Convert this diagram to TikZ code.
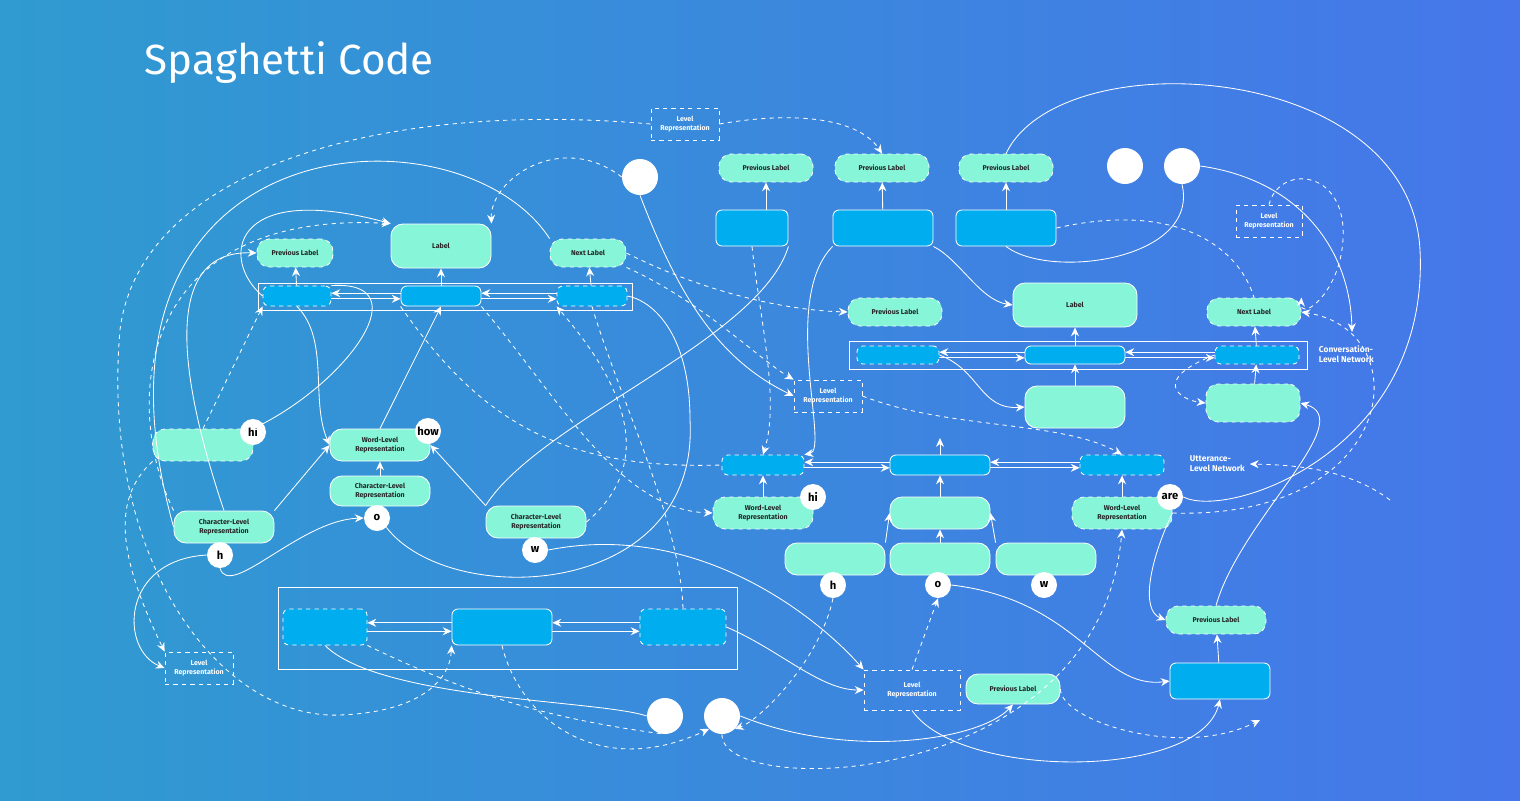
\documentclass[tikz,border=0pt]{standalone}
\usepackage{fontspec}
\setmainfont{Fira Sans}
\usetikzlibrary{arrows.meta}
\definecolor{bgl}{HTML}{2F9BD0}
\definecolor{bgr}{HTML}{4676EA}
\definecolor{mint}{HTML}{86F5D8}
\definecolor{cyanb}{HTML}{00AEEF}
\tikzset{
  base/.style={draw=white, line width=0.6pt, text=black!85, align=center, inner sep=0.5pt,
    font=\fontsize{5}{6}\selectfont\bfseries},
  lab/.style={base, fill=mint, rounded corners=3mm, minimum height=8mm, minimum width=25mm},
  dlab/.style={lab, dashed},
  blk/.style={base, fill=cyanb, rounded corners=1.5mm, minimum height=9mm, minimum width=25mm},
  dblk/.style={blk, dashed},
  lvl/.style={base, dashed, fill=none, text=white, minimum width=17mm, minimum height=8mm},
  dot/.style={circle, fill=white, minimum size=9mm, inner sep=0pt},
  let/.style={circle, fill=white, draw=none, minimum size=6.5mm, inner sep=0pt,
    font=\fontsize{8}{9}\selectfont\bfseries},
  frame/.style={draw=white, line width=0.6pt},
  wire/.style={draw=white, line width=0.6pt, -{Stealth[length=2.2mm,width=2mm]}},
  dwire/.style={wire, dashed},
  netcap/.style={text=white, align=left, anchor=west, font=\fontsize{6}{7}\selectfont\bfseries}
}
\begin{document}
\begin{tikzpicture}[x=0.25mm, y=-0.25mm]
  \shade[left color=bgl, right color=bgr] (0,0) rectangle (1520,800);
  \useasboundingbox (0,0) rectangle (1520,800);
  \node[anchor=west, text=white, font=\fontsize{30}{36}\selectfont] (title) at (140,63) {Spaghetti Code};

  % left network
  \draw[frame] (258,283) rectangle (632,310);
  \node[lab, minimum width=25mm, minimum height=11mm] (labL) at (441,246) {Label};
  \node[dlab, minimum width=19mm, minimum height=7mm] (prevL) at (295,253) {Previous Label};
  \node[dlab, minimum width=19mm, minimum height=7mm] (nextL) at (588,253) {Next Label};
  \node[dblk, minimum width=17mm, minimum height=5mm] (bl1) at (297,296) {};
  \node[blk, minimum width=20mm, minimum height=5mm] (bl2) at (441,296) {};
  \node[dblk, minimum width=17.5mm, minimum height=5mm] (bl3) at (592,296) {};
  \node[dlab] (hiL) at (203,445) {};
  \node[let] (hiLc) at (253,432) {hi};
  \node[lab] (wordL) at (380,445) {Word-Level\\Representation};
  \node[let] (howc) at (428,431) {how};
  \node[lab, minimum height=7.5mm] (chO) at (380,491) {Character-Level\\Representation};
  \node[let] (oc) at (377,518) {o};
  \node[lab] (chH) at (224,527) {Character-Level\\Representation};
  \node[let] (hc) at (220,555) {h};
  \node[lab] (chW) at (536,522) {Character-Level\\Representation};
  \node[let] (wc) at (535,550) {w};

  \draw[frame] (278,587) rectangle (737,669);
  \node[dblk, minimum width=21mm] (bb1) at (325,627) {};
  \node[blk] (bb2) at (502,627) {};
  \node[dblk, minimum width=21.5mm] (bb3) at (683,627) {};

  % right network
  \node[dlab, minimum width=23.5mm, minimum height=7mm] (prevR1) at (766,168) {Previous Label};
  \node[dlab, minimum width=23.5mm, minimum height=7mm] (prevR2) at (882,168) {Previous Label};
  \node[dlab, minimum width=23.5mm, minimum height=7mm] (prevR3) at (1006,168) {Previous Label};
  \node[blk, minimum width=18mm] (br1) at (752,228) {};
  \node[blk] (br2) at (883,228) {};
  \node[blk] (br3) at (1006,228) {};
  \draw[frame] (849,341) rectangle (1307,369);
  \node[lab, minimum width=31mm, minimum height=11mm] (labR) at (1075,305) {Label};
  \node[dlab, minimum width=23.5mm, minimum height=7mm] (prevR) at (895,312) {Previous Label};
  \node[dlab, minimum width=23.5mm, minimum height=7mm] (nextR) at (1254,312) {Next Label};
  \node[dblk, minimum width=20.5mm, minimum height=4.5mm] (cr1) at (898,355) {};
  \node[blk, minimum width=25mm, minimum height=4.5mm] (cr2) at (1075,355) {};
  \node[dblk, minimum width=21mm, minimum height=4.5mm] (cr3) at (1257,355) {};
  \node[lab, minimum height=10.5mm] (mR2) at (1075,407) {};
  \node[dlab, minimum width=23.5mm, minimum height=9.5mm] (mR3) at (1253,403) {};
  \node[netcap] (conv) at (1314,354) {Conversation-\\Level Network};
  \node[dblk, minimum width=20.5mm, minimum height=5mm] (u1) at (763,465) {};
  \node[blk, minimum width=25mm, minimum height=5mm] (u2) at (940,465) {};
  \node[dblk, minimum width=21mm, minimum height=5mm] (u3) at (1122,465) {};
  \node[netcap] (utt) at (1185,464) {Utterance-\\Level Network};
  \coordinate (u2up) at (940,438);
  \node[dlab] (wordHi) at (763,513) {Word-Level\\Representation};
  \node[let] (hic) at (813,497) {hi};
  \node[lab] (mU2) at (940,513) {};
  \node[dlab] (wordAre) at (1122,513) {Word-Level\\Representation};
  \node[let] (arec) at (1170,497) {are};
  \node[lab] (mh) at (835,559) {};
  \node[lab] (mo) at (940,559) {};
  \node[lab] (mw) at (1046,559) {};
  \node[let] (hc2) at (833,585) {h};
  \node[let] (oc2) at (938,585) {o};
  \node[let] (wc2) at (1044,585) {w};
  \node[dlab, minimum height=7mm] (prevB) at (1216,620) {Previous Label};
  \node[blk] (bB) at (1220,681) {};
  \node[lab, minimum width=23.5mm, minimum height=7.5mm] (prevC) at (1013,689) {Previous Label};

  % level boxes and dots
  \node[lvl] (lvA) at (685,124) {Level\\Representation};
  \node[lvl] (lvB) at (828,396) {Level\\Representation};
  \node[lvl, minimum width=16.5mm] (lvC) at (1269,221) {Level\\Representation};
  \node[lvl] (lvD) at (199,668) {Level\\Representation};
  \node[lvl, minimum width=24mm, minimum height=10mm] (lvE) at (912,690) {Level\\Representation};
  \node[dot] (d1) at (640,177) {};
  \node[dot] (d2) at (1125,166) {};
  \node[dot] (d3) at (1182,166) {};
  \node[dot] (d4) at (665,716) {};
  \node[dot] (d5) at (722,716) {};
  \coordinate (convIn) at (1352,332);

  % straight links
  \draw[wire] (bl1) -- (prevL);
  \draw[wire] (bl2) -- (labL);
  \draw[wire] (bl3) -- (nextL);
  \draw[wire] ([yshift=-2]bl1.east) -- ([yshift=-2]bl2.west);
  \draw[wire] ([yshift=2]bl2.west) -- ([yshift=2]bl1.east);
  \draw[wire] ([yshift=-2]bl2.east) -- ([yshift=-2]bl3.west);
  \draw[wire] ([yshift=2]bl3.west) -- ([yshift=2]bl2.east);
  \draw[wire] (chO) -- (wordL);
  \draw[wire] (chH.north east) -- (wordL.west);
  \draw[wire] (chW.north west) -- (wordL.east);
  \draw[wire] (wordL.north) -- (bl2.south);
  \draw[wire] ([yshift=-3]bb1.east) -- ([yshift=-3]bb2.west);
  \draw[wire] ([yshift=3]bb2.west) -- ([yshift=3]bb1.east);
  \draw[wire] ([yshift=-3]bb2.east) -- ([yshift=-3]bb3.west);
  \draw[wire] ([yshift=3]bb3.west) -- ([yshift=3]bb2.east);
  \draw[wire] (br1.north -| prevR1) -- (prevR1);
  \draw[wire] (br2) -- (prevR2);
  \draw[wire] (br3) -- (prevR3);
  \draw[wire] (cr2) -- (labR);
  \draw[wire] (cr3) -- (nextR);
  \draw[wire] (mR2) -- (cr2);
  \draw[wire] (mR3) -- (cr3);
  \draw[wire] ([yshift=-2]cr1.east) -- ([yshift=-2]cr2.west);
  \draw[wire] ([yshift=2]cr2.west) -- ([yshift=2]cr1.east);
  \draw[wire] ([yshift=-2]cr2.east) -- ([yshift=-2]cr3.west);
  \draw[wire] ([yshift=2]cr3.west) -- ([yshift=2]cr2.east);
  \draw[wire] ([yshift=-2]u1.east) -- ([yshift=-2]u2.west);
  \draw[wire] ([yshift=2]u2.west) -- ([yshift=2]u1.east);
  \draw[wire] ([yshift=-2]u2.east) -- ([yshift=-2]u3.west);
  \draw[wire] ([yshift=2]u3.west) -- ([yshift=2]u2.east);
  \draw[wire] (u2.north) -- (u2up);
  \draw[wire] (wordHi) -- (u1);
  \draw[wire] (mU2) -- (u2);
  \draw[wire] (wordAre) -- (u3);
  \draw[wire] (mh.north east) -- (mU2.west);
  \draw[wire] (mo) -- (mU2);
  \draw[wire] (mw.north west) -- (mU2.east);
  \draw[wire] (bB) -- (prevB);

  % solid curves
  \draw[wire] (d1.south) .. controls (680,300) and (720,360) .. (lvB.west);
  \draw[wire, -] (nextL.north west) .. controls (460,100) and (60,120) .. (chH.west);
  \draw[wire] (bl1.west) .. controls (220,260) and (230,180) .. (labL.north west);
  \draw[wire] (chH.north) .. controls (180,380) and (160,250) .. (prevL.west);
  \draw[wire] (bl1.south) .. controls (330,340) and (310,400) .. (wordL.west);
  \draw[wire] (bl1.north east) .. controls (420,280) and (350,380) .. (hiL.north east);
  \draw[wire, -] (oc.south east) .. controls (450,610) and (700,600) .. (690,420)
     .. controls (690,330) and (650,300) .. (bl3.east);
  \draw[wire] (hc.south) .. controls (230,600) and (300,520) .. (oc.west);
  \draw[wire] (hc.west) .. controls (120,560) and (120,650) .. (lvD.west);
  \draw[wire, -] (chW.north west) .. controls (540,420) and (760,340) .. (br1.south east);
  \draw[wire] (bb3.east) .. controls (780,650) and (820,690) .. (lvE.west);
  \draw[wire, -] (bb1.south) .. controls (380,700) and (600,700) .. (d4.west);
  \draw[wire] (wc.east) .. controls (700,520) and (820,620) .. (lvE.north west);
  \draw[wire] (br2.south west) .. controls (780,300) and (830,450) .. (u1.north east);
  \draw[wire] (br2.south east) .. controls (960,260) and (980,300) .. (labR.west);
  \draw[wire, -] (br3.south) .. controls (1050,280) and (1200,260) .. (d3.south);
  \draw[wire] (d3.east) .. controls (1300,180) and (1350,250) .. (convIn);
  \draw[wire, -] (prevR3.north) .. controls (1060,40) and (1410,60) .. (1420,250)
     .. controls (1430,450) and (1230,520) .. (arec.east);
  \draw[wire] (cr1.east) .. controls (980,370) and (980,410) .. (mR2.west);
  \draw[wire] (oc2.east) .. controls (1080,600) and (1100,690) .. (bB.west);
  \draw[wire] (prevB.north) .. controls (1240,520) and (1360,420) .. (mR3.east);
  \draw[wire] (wordAre.east) .. controls (1150,560) and (1140,610) .. (prevB.west);
  \draw[wire] (lvE.south) .. controls (960,780) and (1200,780) .. (bB.south);
  \draw[wire] (d5.east) .. controls (850,760) and (980,740) .. (prevC.south);

  % dashed curves
  \draw[dwire] (lvA.east) .. controls (800,110) and (860,120) .. (prevR2.north);
  \draw[dwire] (d1.west) .. controls (560,130) and (490,180) .. (labL.north east);
  \draw[dwire] (lvA.west) .. controls (380,100) and (140,170) .. (120,330)
     .. controls (100,560) and (220,720) .. (340,715) .. controls (420,712) and (450,680) .. (bb2.south west);
  \draw[dwire] (chH.north west) .. controls (120,400) and (140,210) .. (labL.north west);
  \draw[dwire] (hiL.north) -- (bl1.south west);
  \draw[dwire] (bl2.south east) .. controls (560,400) and (620,510) .. (wordHi.west);
  \draw[dwire] (nextL.east) .. controls (700,290) and (780,310) .. (prevR.west);
  \draw[dwire] (nextL.south east) .. controls (700,300) and (760,360) .. (lvB.north west);
  \draw[dwire, -] (bl3.south) .. controls (620,400) and (680,520) .. (bb3.north);
  \draw[dwire, -] (bl2.south west) .. controls (480,420) and (560,470) .. (u1.west);
  \draw[dwire] (chW.east) .. controls (660,460) and (620,380) .. (bl3.south west);
  \draw[dwire] (lvB.east) .. controls (950,430) and (1060,420) .. (u3.north);
  \draw[dwire] (wordAre.east) .. controls (1400,520) and (1420,330) .. (nextR.east);
  \draw[dwire, -] (br3.east) .. controls (1180,200) and (1240,250) .. (nextR.north);
  \draw[dwire] (1390,500) .. controls (1350,470) and (1300,465) .. (utt.east);
  \draw[dwire] (lvC.north) .. controls (1280,160) and (1360,170) .. (1340,260) .. controls (1330,300) and (1300,320) .. (nextR.north east);
  \draw[dwire] (cr3.west) .. controls (1150,380) and (1180,400) .. (mR3.west);
  \draw[dwire] (d5.south) .. controls (720,800) and (1100,790) .. (wordAre.south);
  \draw[dwire] (lvE.north) -- (oc2.south);
  \draw[dwire] (hc2.south) .. controls (820,660) and (760,720) .. (d5.south east);
  \draw[dwire] (br1.south) .. controls (760,320) and (780,400) .. (u1.north);
  \draw[dwire] (bb2.south) .. controls (520,720) and (600,780) .. (d5.south west);
  \draw[dwire] (prevC.east) .. controls (1060,720) and (1180,760) .. (1260,720);
  \draw[dwire] (hiL.south west) .. controls (110,500) and (120,560) .. (lvD.north west);
  \draw[dwire, -] (bb1.south east) .. controls (480,700) and (560,720) .. (d4.south);
\end{tikzpicture}
\end{document}
